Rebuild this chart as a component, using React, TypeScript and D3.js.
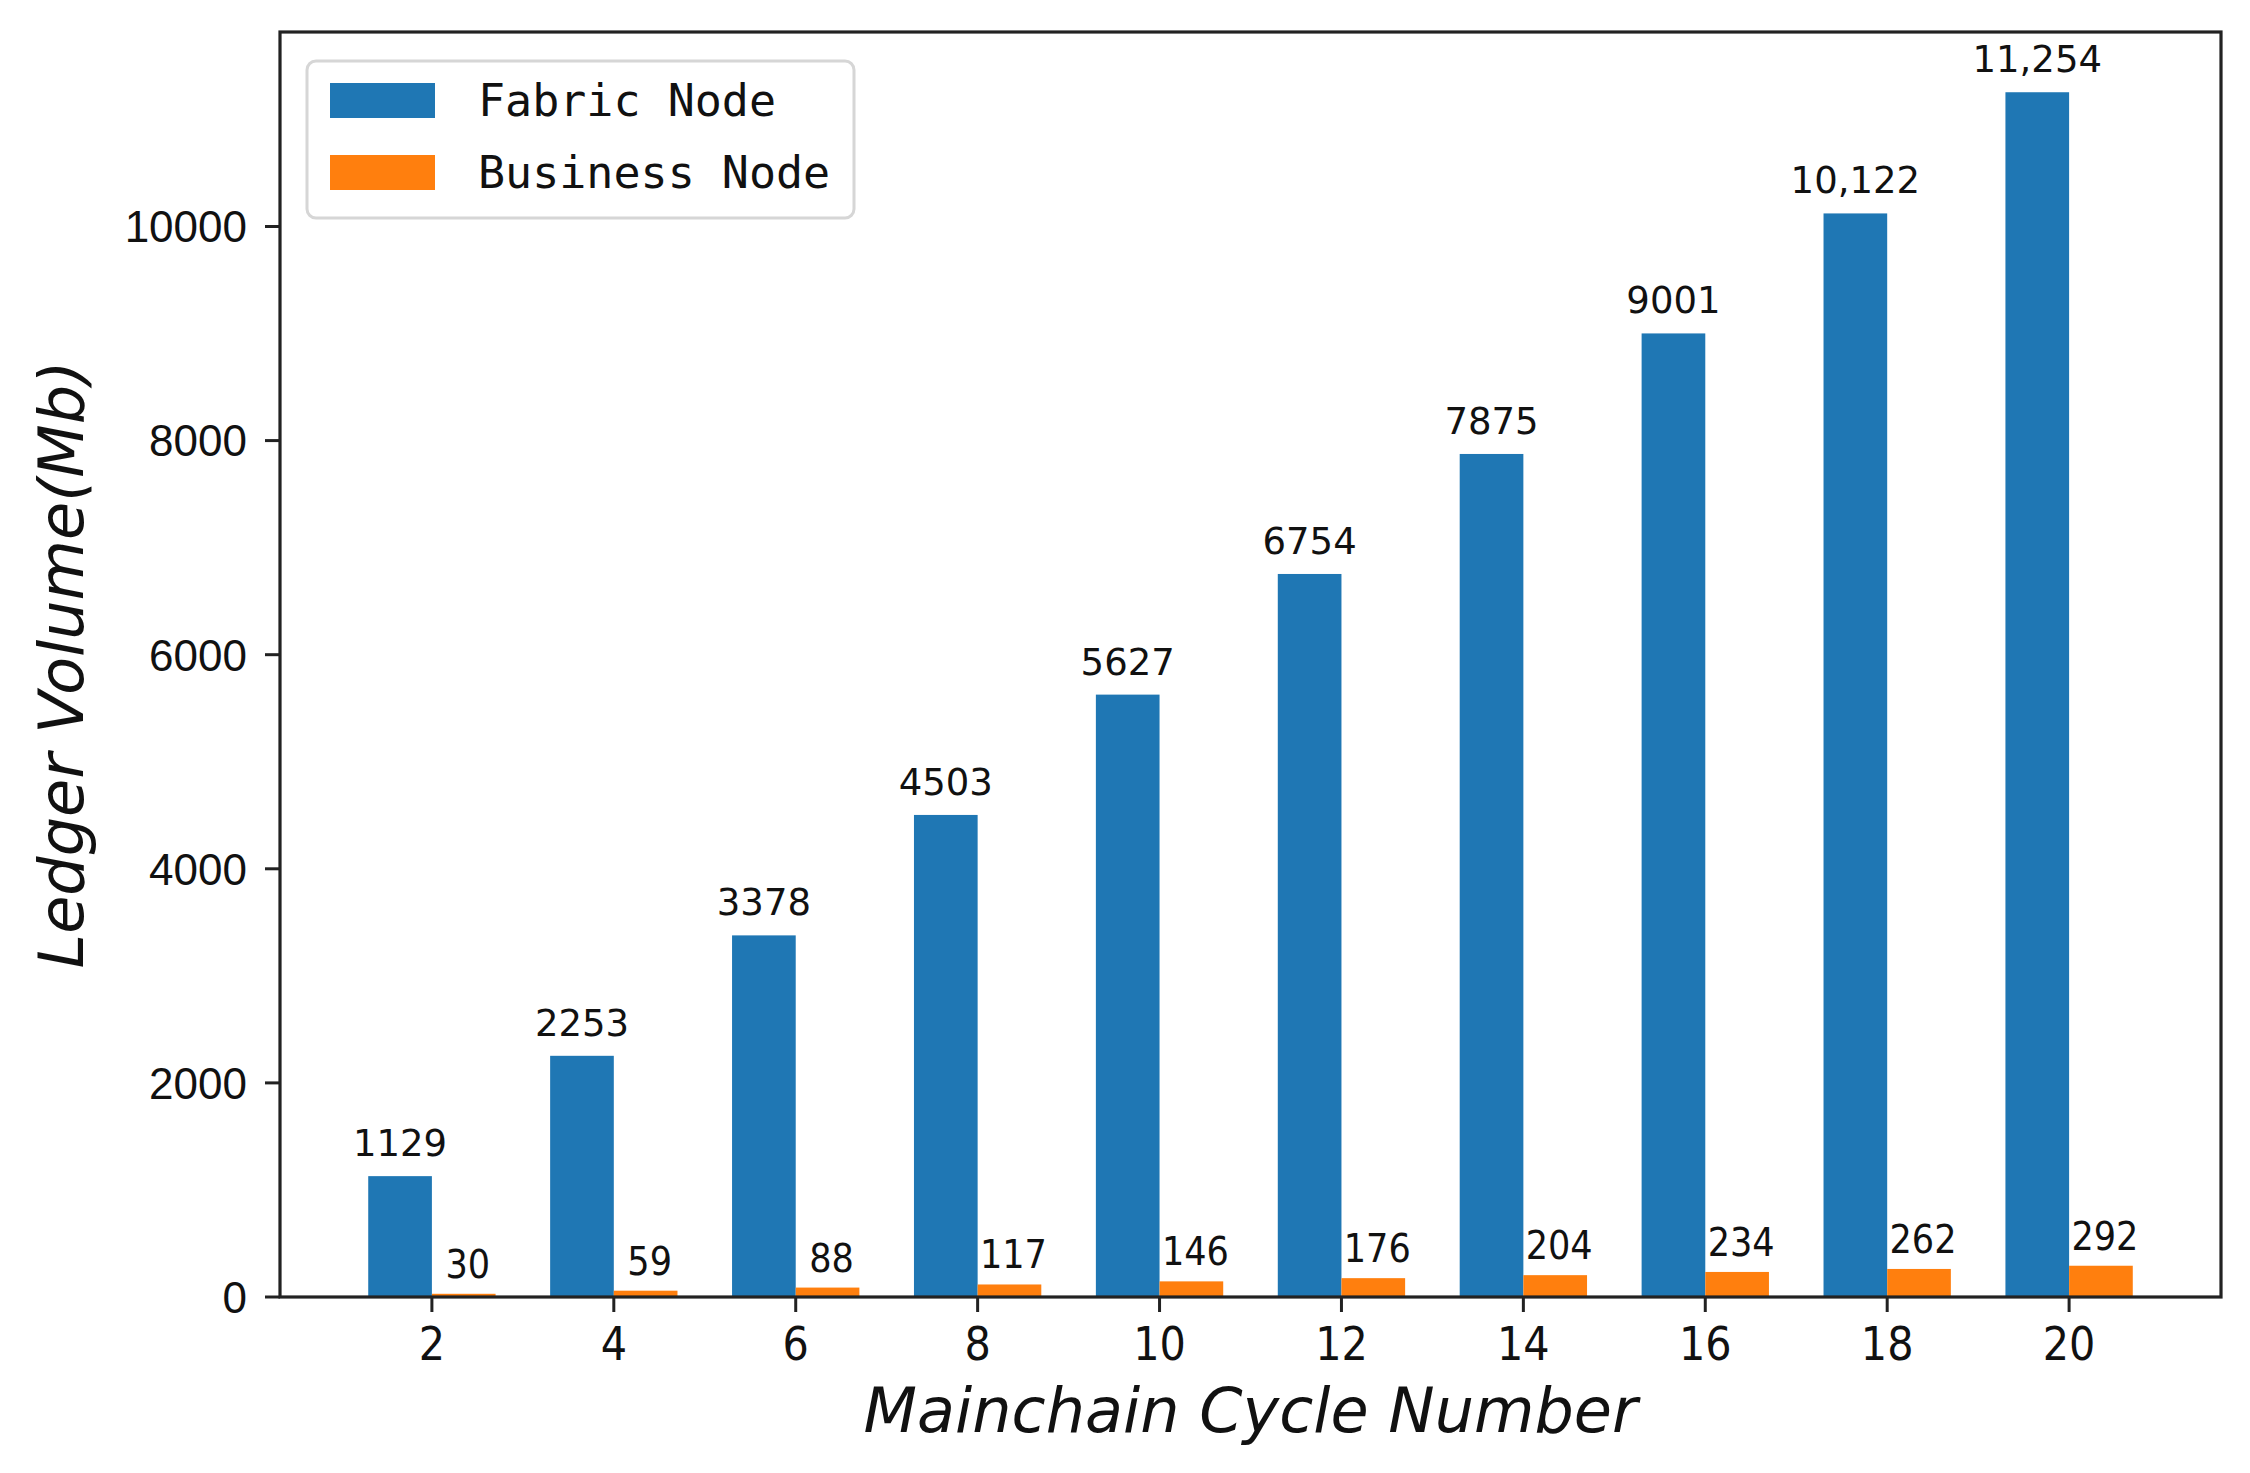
import React from "react";
import * as d3 from "d3";

const cycles = [2, 4, 6, 8, 10, 12, 14, 16, 18, 20];
const fabricNode = [1129, 2253, 3378, 4503, 5627, 6754, 7875, 9001, 10122, 11254];
const businessNode = [30, 59, 88, 117, 146, 176, 204, 234, 262, 292];
const yTicks = [0, 2000, 4000, 6000, 8000, 10000];
const seriesNames = ["Fabric Node", "Business Node"];
const colors = ["#1f77b4", "#ff7f0e"];

const W = 2250;
const H = 1473;
const margin = { top: 32, right: 29, bottom: 176, left: 280 };
const barW = 0.35;

const fmtLabel = (v: number) => (v >= 10000 ? d3.format(",")(v) : String(v));

export default function App() {
  const lo = -barW;
  const hi = cycles.length - 1 + barW;
  const pad = (hi - lo) * 0.05;
  const x = d3
    .scaleLinear()
    .domain([lo - pad, hi + pad])
    .range([margin.left, W - margin.right]);
  const yMax = (d3.max(fabricNode) ?? 0) * 1.05;
  const y = d3
    .scaleLinear()
    .domain([0, yMax])
    .range([H - margin.bottom, margin.top]);

  const x0 = margin.left;
  const x1 = W - margin.right;
  const y0 = H - margin.bottom;
  const y1 = margin.top;
  const axisColor = "#222";
  const condensed = "'DejaVu Sans Condensed', 'Liberation Sans Narrow', 'DejaVu Sans', sans-serif";

  return (
    <svg
      width={W}
      height={H}
      style={{ position: "absolute", left: 0, top: 0, background: "#fff" }}
    >
      {/* bars */}
      {fabricNode.map((v, i) => (
        <rect
          key={"f" + i}
          x={x(i - barW)}
          y={y(v)}
          width={x(i) - x(i - barW)}
          height={y(0) - y(v)}
          fill={colors[0]}
        />
      ))}
      {businessNode.map((v, i) => (
        <rect
          key={"b" + i}
          x={x(i)}
          y={y(v)}
          width={x(i + barW) - x(i)}
          height={y(0) - y(v)}
          fill={colors[1]}
        />
      ))}

      {/* value labels */}
      {fabricNode.map((v, i) => (
        <text
          key={"fl" + i}
          x={x(i - barW / 2)}
          y={y(v) - 20}
          textAnchor="middle"
          fontFamily="'DejaVu Sans', sans-serif"
          fontSize={37}
          fill="#111"
        >
          {fmtLabel(v)}
        </text>
      ))}
      {businessNode.map((v, i) => (
        <text
          key={"bl" + i}
          x={x(i + barW / 2) + 4}
          y={y(v) - 16}
          textAnchor="middle"
          fontFamily={condensed}
          fontSize={39}
          fill="#111"
        >
          {fmtLabel(v)}
        </text>
      ))}

      {/* y axis ticks */}
      {yTicks.map((t) => (
        <g key={"yt" + t}>
          <line x1={x0 - 15} x2={x0} y1={y(t)} y2={y(t)} stroke={axisColor} strokeWidth={3} />
          <text
            x={x0 - 33}
            y={y(t)}
            dy="0.36em"
            textAnchor="end"
            fontFamily="'Liberation Sans', Arial, sans-serif"
            fontSize={44}
            fill="#111"
          >
            {t}
          </text>
        </g>
      ))}

      {/* x axis ticks */}
      {cycles.map((c, i) => (
        <g key={"xt" + c}>
          <line x1={x(i)} x2={x(i)} y1={y0} y2={y0 + 15} stroke={axisColor} strokeWidth={3} />
          <text
            x={x(i)}
            y={y0 + 63}
            textAnchor="middle"
            fontFamily={condensed}
            fontSize={46}
            fill="#111"
          >
            {c}
          </text>
        </g>
      ))}

      {/* frame */}
      <rect
        x={x0}
        y={y1}
        width={x1 - x0}
        height={y0 - y1}
        fill="none"
        stroke={axisColor}
        strokeWidth={3.2}
      />

      {/* axis labels */}
      <text
        x={(x0 + x1) / 2}
        y={1432}
        textAnchor="middle"
        fontFamily="'DejaVu Sans', sans-serif"
        fontStyle="italic"
        fontSize={62}
        fill="#111"
      >
        Mainchain Cycle Number
      </text>
      <text
        transform={`translate(83,${(y0 + y1) / 2}) rotate(-90)`}
        textAnchor="middle"
        fontFamily="'DejaVu Sans', sans-serif"
        fontStyle="italic"
        fontSize={62}
        fill="#111"
      >
        Ledger Volume(Mb)
      </text>

      {/* legend */}
      <g>
        <rect
          x={307}
          y={61}
          width={547}
          height={157}
          rx={9}
          fill="#fff"
          fillOpacity={0.8}
          stroke="#d6d6d6"
          strokeWidth={3}
        />
        {seriesNames.map((s, i) => (
          <g key={s} transform={`translate(0,${i * 72})`}>
            <rect x={330} y={83} width={105} height={35} fill={colors[i]} />
            <text
              x={478}
              y={116}
              fontFamily="'DejaVu Sans Mono', 'Liberation Mono', monospace"
              fontSize={45}
              fill="#111"
            >
              {s}
            </text>
          </g>
        ))}
      </g>
    </svg>
  );
}
